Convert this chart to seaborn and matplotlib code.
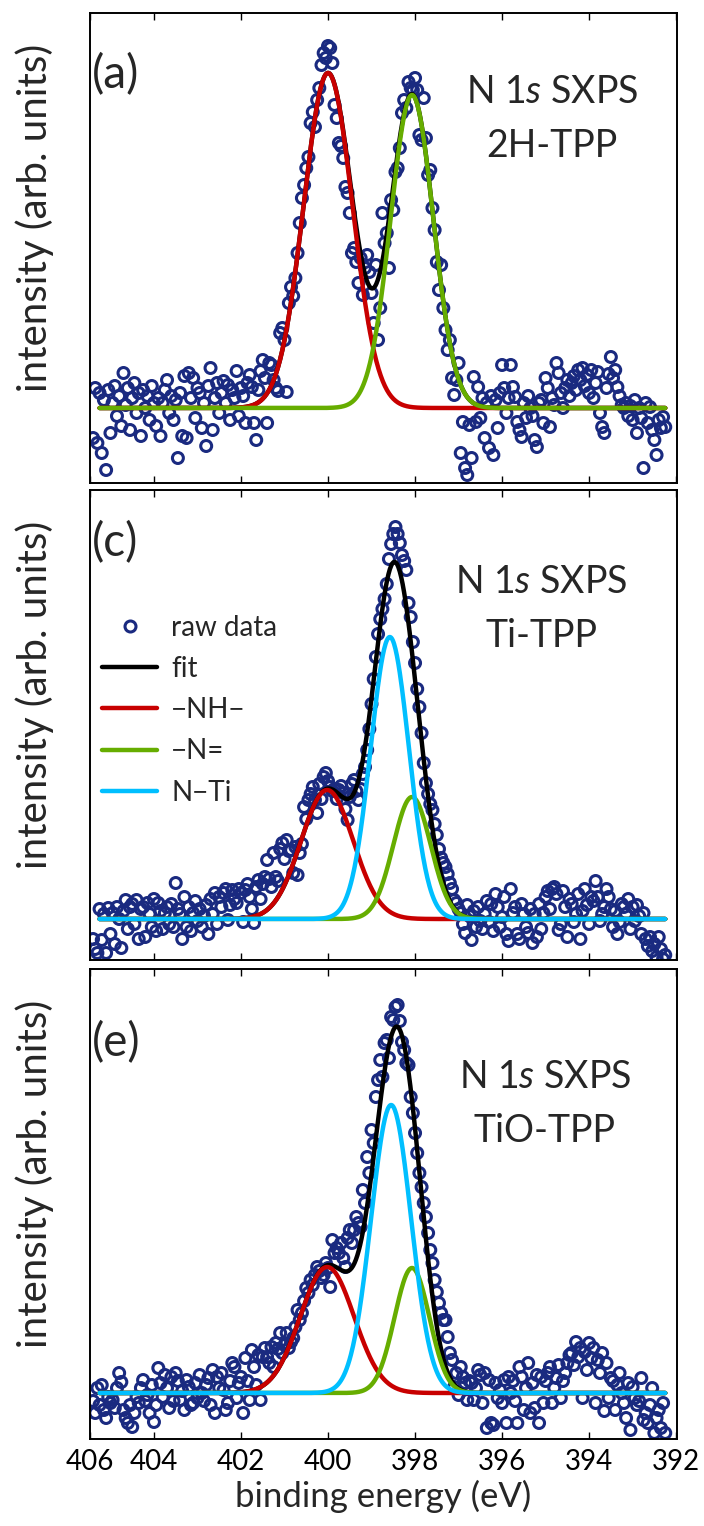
import numpy as np
import matplotlib
matplotlib.use("Agg")
import matplotlib.pyplot as plt
import seaborn as sns
from matplotlib.lines import Line2D

sns.set_style("white")
plt.rcParams['font.family'] = ['Lato', 'DejaVu Sans']
plt.rcParams['mathtext.fontset'] = 'custom'
plt.rcParams['mathtext.rm'] = 'Lato'
plt.rcParams['mathtext.it'] = 'Lato:italic'

# ---------------- data ----------------
# raw data: binding energy grid start / step (eV), intensities (arb. units, baseline = 0)
E_START = 405.40
E_STEP = 0.05

raw_a = [
    -30, 20, -35, 15, -45, 8, -62, 18, -25, 5, 22, -8, 12, -18, 35, 3, 20, -22, 10, 25,
    -5, 15, -28, 18, 0, 12, -12, 22, 5, -18, 10, -28, 5, 18, 28, -5, 12, -12, 8, -50,
    15, -28, 32, -30, 35, 10, 30, -10, 20, 15, -20, 5, -38, 22, 40, -22, 10, 25, -5, 15,
    27, 5, 23, -12, 18, 10, 37, -8, 20, 12, -15, 25, 33, 21, -15, -32, 18, 37, 48, 30,
    -15, 45, 43, 28, 20, 17, 75, 80, 68, 16, 105, 121, 112, 130, 155, 185, 210, 223, 240, 251,
    285, 296, 281, 308, 320, 343, 355, 350, 362, 360, 345, 303, 290, 265, 262, 250, 221, 215, 195, 155,
    160, 146, 125, 150, 113, 140, 153, 136, 115, 85, 143, 68, 100, 195, 165, 175, 140, 208, 198, 236,
    240, 260, 295, 308, 300, 326, 320, 318, 330, 318, 273, 268, 310, 270, 233, 238, 200, 178, 146, 118,
    143, 100, 78, 58, 68, 30, 13, 28, 45, -45, -14, -60, -67, -17, -50, 31, -14, 21, -10, 10,
    -30, 5, -40, 12, -47, 8, -20, 15, 43, 20, -5, 10, 43, 21, 11, -14, -22, -29, 5, -10,
    12, 0, -8, -32, -39, 5, 8, -15, 30, 20, -19, 10, 3, 45, 35, 15, 0, 20, 28, 12,
    25, 32, 18, 38, 28, 40, 22, 33, 15, 38, 10, 25, 36, -5, -19, -25, 20, 34, 51, 30,
    38, 21, 12, 3, 0, 5, -8, 2, -12, 8, -25, 0, -10, -60, 5, -15, 1, -22, -32, -47,
    -12, -20, -9, -19,
]

raw_c = [
    -20, -30, -34, 10, -21, 5, -34, 11, -15, 6, -25, 12, 0, -29, 8, 19, -10, 12, 15, -5,
    19, -20, 10, 12, -18, 16, 5, -8, 20, -12, 16, 8, -10, 6, 12, -5, 15, -8, 36, 10,
    5, -20, 22, -8, 12, -12, 6, 18, -2, 10, -8, 3, 14, -15, 20, 5, 26, -5, 22, 12,
    26, 30, -1, 14, 29, 20, 16, 30, 26, -3, 29, 35, 22, 10, -4, 32, 39, 20, 35, 42,
    59, 40, 32, 66, 42, 38, 70, 76, 60, 79, 68, 69, 46, 72, 44, 66, 75, 112, 100, 119,
    125, 132, 119, 106, 135, 120, 142, 146, 138, 132, 128, 130, 120, 129, 133, 126, 110, 99, 122, 135,
    139, 128, 119, 130, 145, 152, 169, 190, 215, 240, 262, 285, 300, 310, 320, 335, 360, 375, 385, 392,
    385, 376, 364, 358, 349, 316, 302, 277, 256, 230, 212, 186, 156, 136, 125, 115, 109, 95, 84, 70,
    61, 56, 52, 45, 36, 30, 19, 16, 10, 6, -5, -14, 14, 3, -21, 8, -8, 12, -2, -10,
    5, 18, -3, 15, -12, 25, 12, -8, 2, 22, -15, -22, 30, 6, 12, -15, -20, 15, 5, -8,
    -14, 10, -24, 5, -18, 15, -10, 6, 22, 28, 10, 30, 32, 25, -11, -5, 28, 12, -18, 20,
    15, -3, 5, 25, -20, 8, 30, 14, -5, 22, 18, 38, 22, -2, 5, 12, 30, 22, 10, -8,
    8, -15, -3, 15, 12, 5, 20, -10, 12, -2, 14, 3, -15, 6, -20, -27, -18, -32, -25, -38,
    -18, -30, -40, -36,
]

raw_e = [
    -8, -20, 5, -12, 8, -17, -25, -4, -10, -7, -15, 5, 20, 11, -17, -25, -30, -12, -34, -20,
    -4, -10, 5, 13, -8, -2, -20, 8, -29, -12, 25, 10, -4, 18, 5, -15, 16, -8, 20, 12,
    -7, 2, -17, 13, 6, -12, -10, 10, -5, 18, 0, -8, 8, 15, -12, 23, -20, 16, 5, 20,
    3, -17, -10, 12, 30, 26, -5, 10, 16, -20, 35, 12, -7, 43, 26, 8, 38, -7, 36, 45,
    36, 30, 46, 26, 50, 44, 60, 40, 48, 60, 45, 51, 55, 66, 83, 73, 80, 92, 105, 100,
    113, 108, 118, 126, 122, 115, 118, 130, 125, 106, 153, 140, 145, 140, 150, 135, 126, 155, 163, 150,
    163, 176, 170, 166, 203, 190, 236, 220, 263, 250, 296, 313, 333, 316, 350, 353, 335, 376, 373, 386,
    388, 372, 351, 343, 330, 328, 296, 280, 260, 240, 220, 206, 190, 176, 160, 143, 130, 113, 101, 90,
    80, 73, 73, 56, 40, 33, 6, 20, -2, 26, 16, 10, -7, 12, 10, -7, 5, 23, 18, -10,
    20, -35, 13, -30, -32, 10, -5, 3, -10, 13, -30, 16, 0, 12, -8, -30, 26, 16, -17, 5,
    30, -20, 10, -15, 18, -30, 16, -10, 12, 20, 26, -10, 5, 15, 28, -5, 12, 20, 30, 38,
    40, 28, 51, 36, 45, -5, 41, 23, 50, 35, 45, -10, 33, 20, 40, -18, 30, -5, 15, 12,
    -17, 8, 20, 0, -10, -25, 10, -37, 6, -5, -12, -8, 15, -27, -20, -30, -12, 5, -40, -25,
    -17, -35, -10, -40,
]

# fitted components: (centre eV, amplitude, gaussian sigma eV)
fit_a = {"NH": (400.00, 335, 0.56), "N=": (398.07, 313, 0.49)}
fit_c = {"NH": (400.02, 129, 0.60), "N=": (398.07, 122, 0.43), "NTi": (398.58, 282, 0.44)}
fit_e = {"NH": (400.02, 126, 0.62), "N=": (398.07, 125, 0.40), "NTi": (398.55, 288, 0.46)}

panel_tags = ["(a)", "(c)", "(e)"]
panel_samples = ["2H-TPP", "Ti-TPP", "TiO-TPP"]
legend_labels = ["raw data", "fit", "\u2212NH\u2212", "\u2212N=", "N\u2212Ti"]
x_tick_pos = [405.47, 404, 402, 400, 398, 396, 394, 392]
x_tick_lab = ["406", "404", "402", "400", "398", "396", "394", "392"]

NAVY = "#1a2a80"
RED = "#c80000"
GREEN = "#66ad00"
CYAN = "#00bfff"

FIT_E = np.linspace(405.25, 392.25, 800)


def gauss(E, p):
    c, a, s = p
    return a * np.exp(-(E - c) ** 2 / (2 * s ** 2))


fig = plt.figure(figsize=(7.04, 15.26), dpi=100)
W, H = 704, 1526
ax_left, ax_w = 90 / W, 587 / W
tops = [13, 490, 969]
ylims = [(-75, 395), (-41, 429), (-46, 424)]
raws = [raw_a, raw_c, raw_e]
fits = [fit_a, fit_c, fit_e]
txt_x = [552, 541, 545]
txt_b1 = [103, 593, 1088]
tag_b = [88, 556, 1056]

for i in range(3):
    top = tops[i]
    bottom_px = top + 470
    ax = fig.add_axes([ax_left, 1 - bottom_px / H, ax_w, 470 / H])
    vals = np.array(raws[i], dtype=float)
    E = E_START - E_STEP * np.arange(len(vals))
    sns.scatterplot(x=E, y=vals, ax=ax, s=62, marker="o", legend=False, zorder=1)
    coll = ax.collections[-1]
    coll.set_facecolor("none")
    coll.set_edgecolor(NAVY)
    coll.set_linewidth(2.2)

    comps = fits[i]
    total = sum(gauss(FIT_E, p) for p in comps.values())
    lw = 3.2
    sns.lineplot(x=FIT_E, y=total, ax=ax, color="black", lw=lw, estimator=None, sort=False, zorder=3)
    sns.lineplot(x=FIT_E, y=gauss(FIT_E, comps["NH"]), ax=ax, color=RED, lw=lw, estimator=None, sort=False, zorder=4)
    sns.lineplot(x=FIT_E, y=gauss(FIT_E, comps["N="]), ax=ax, color=GREEN, lw=lw, estimator=None, sort=False, zorder=5)
    if "NTi" in comps:
        sns.lineplot(x=FIT_E, y=gauss(FIT_E, comps["NTi"]), ax=ax, color=CYAN, lw=lw, estimator=None, sort=False, zorder=6)

    ax.set_xlim(405.47, 391.98)
    ax.set_ylim(*ylims[i])
    ax.set_yticks([])
    ax.set_xticks(x_tick_pos)
    ax.set_xticklabels(x_tick_lab)
    ax.tick_params(axis="x", direction="in", top=True, bottom=True, length=5, width=1,
                   labelbottom=(i == 2), labelsize=20, pad=7, colors="black")
    for sp in ax.spines.values():
        sp.set_linewidth(1.4)
        sp.set_color("black")
        sp.set_visible(True)

    ax.set_ylabel("intensity (arb. units)", fontsize=29)
    ax.yaxis.set_label_coords((35 - 90) / 587, 0.565)
    ax.yaxis.label.set_verticalalignment("center")

    if i == 2:
        ax.set_xlabel("binding energy (eV)", fontsize=25, labelpad=4)
    else:
        ax.set_xlabel("")

    ax.text((92 - 90) / 587, (bottom_px - tag_b[i]) / 470, panel_tags[i], transform=ax.transAxes,
            fontsize=33, ha="left", va="baseline")
    xc = (txt_x[i] - 90) / 587
    ax.text(xc, (bottom_px - txt_b1[i]) / 470, r"N 1$\it{s}$ SXPS", transform=ax.transAxes,
            fontsize=27, ha="center", va="baseline")
    ax.text(xc, (bottom_px - txt_b1[i] - 54) / 470, panel_samples[i], transform=ax.transAxes,
            fontsize=27, ha="center", va="baseline")

    if i == 1:
        handles = [
            Line2D([], [], ls="none", marker="o", mfc="none", mec=NAVY, mew=2.2, ms=7.9),
            Line2D([], [], color="black", lw=lw),
            Line2D([], [], color=RED, lw=lw),
            Line2D([], [], color=GREEN, lw=lw),
            Line2D([], [], color=CYAN, lw=lw),
        ]
        ax.legend(handles, legend_labels, loc="upper left", bbox_to_anchor=(0.02, 0.735),
                  frameon=False, fontsize=20, handlelength=2.0, handletextpad=0.5,
                  labelspacing=0.55, borderaxespad=0, borderpad=0, numpoints=1)

fig.savefig("out.png", dpi=100)
